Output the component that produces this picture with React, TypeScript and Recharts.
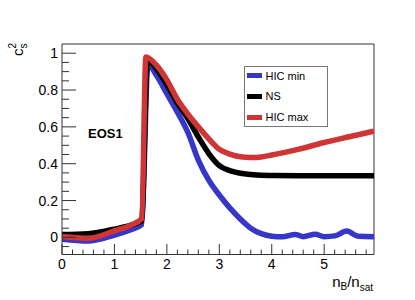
import { LineChart, Line, XAxis, YAxis, ReferenceLine } from "recharts";

// Speed of sound squared vs. baryon density (in units of n_sat), three EOS bands.
const hicMinX = [0, 0.5, 1.0, 1.3, 1.52, 1.64, 1.8, 2.0, 2.2, 2.4, 2.6, 2.8, 3.0, 3.2, 3.4, 3.6, 3.8, 4.0, 4.2, 4.45, 4.6, 4.83, 5.0, 5.2, 5.43, 5.65, 5.95];
const hicMinY = [-0.01, -0.02, 0.012, 0.04, 0.07, 0.94, 0.88, 0.78, 0.68, 0.57, 0.42, 0.31, 0.23, 0.16, 0.1, 0.05, 0.02, 0.006, 0.003, 0.016, 0.004, 0.017, 0.004, 0.008, 0.034, 0.006, 0.004];

const nsX = [0, 0.5, 1.0, 1.3, 1.52, 1.63, 1.8, 2.0, 2.2, 2.4, 2.6, 2.8, 3.0, 3.2, 3.4, 3.6, 3.8, 4.0, 4.5, 5.0, 5.5, 5.95];
const nsY = [0.015, 0.02, 0.045, 0.065, 0.09, 0.965, 0.915, 0.83, 0.73, 0.645, 0.545, 0.455, 0.39, 0.362, 0.348, 0.341, 0.337, 0.336, 0.335, 0.335, 0.335, 0.335];

const hicMaxX = [0, 0.5, 1.0, 1.3, 1.52, 1.6, 1.8, 2.0, 2.2, 2.4, 2.6, 2.8, 3.0, 3.2, 3.4, 3.6, 3.8, 4.0, 4.5, 5.0, 5.5, 5.95];
const hicMaxY = [0.005, -0.005, 0.035, 0.065, 0.1, 0.98, 0.935, 0.855, 0.75, 0.67, 0.6, 0.535, 0.478, 0.452, 0.438, 0.434, 0.437, 0.447, 0.478, 0.515, 0.548, 0.577];

const xMajor = [0, 1, 2, 3, 4, 5];
const yMajor = [0, 0.2, 0.4, 0.6, 0.8, 1];
const yLabels = ["0", "0.2", "0.4", "0.6", "0.8", "1"];

const X_DOMAIN: [number, number] = [0, 5.95];
const Y_DOMAIN: [number, number] = [-0.093, 1.05];

const BLUE = "#3636c8";
const RED = "#cf3535";
const FONT = "'Liberation Sans', Arial, Helvetica, sans-serif";

const toPoints = (xs: number[], ys: number[]) => xs.map((x, i) => ({ x, y: ys[i] }));

// minor ticks every 0.2 on x, every 0.05 on y
const xTicks: number[] = [];
for (let i = 0; i <= 29; i++) xTicks.push(+(i * 0.2).toFixed(2));
const yTicks: number[] = [];
for (let i = -1; i <= 20; i++) yTicks.push(+(i * 0.05).toFixed(2));

const isMajor = (v: number, list: number[]) => list.findIndex((m) => Math.abs(m - v) < 1e-6);

const XTick = (props: any) => {
  const { x, y, payload } = props;
  const idx = isMajor(payload.value, xMajor);
  return (
    <g>
      <line x1={x} x2={x} y1={y} y2={y - (idx >= 0 ? 10.5 : 5)} stroke="#333" />
      {idx >= 0 && (
        <text x={x} y={y + 14} textAnchor="middle" fontSize={14} fontFamily={FONT} fill="#000">
          {xMajor[idx]}
        </text>
      )}
    </g>
  );
};

const YTick = (props: any) => {
  const { x, y, payload } = props;
  const idx = isMajor(payload.value, yMajor);
  return (
    <g>
      <line x1={x} x2={x + (idx >= 0 ? 14 : 7)} y1={y} y2={y} stroke="#333" />
      {idx >= 0 && (
        <text x={x - 4} y={y + 5} textAnchor="end" fontSize={14} fontFamily={FONT} fill="#000">
          {yLabels[idx]}
        </text>
      )}
    </g>
  );
};

const legendItems = [
  { name: "HIC min", color: BLUE },
  { name: "NS", color: "#000" },
  { name: "HIC max", color: RED },
];

export default function App() {
  return (
    <div style={{ position: "fixed", left: 0, top: 0, width: 415, height: 300, background: "#fff" }}>
      <LineChart width={415} height={300} margin={{ top: 44, right: 41, bottom: 0, left: 0 }}>
        <XAxis
          dataKey="x"
          type="number"
          domain={X_DOMAIN}
          allowDataOverflow
          ticks={xTicks}
          interval={0}
          tickSize={0}
          tickMargin={0}
          tick={<XTick />}
          height={45.5}
          stroke="#333"
        />
        <YAxis
          dataKey="y"
          type="number"
          domain={Y_DOMAIN}
          allowDataOverflow
          ticks={yTicks}
          interval={0}
          tickSize={0}
          tickMargin={0}
          tick={<YTick />}
          width={62}
          stroke="#333"
        />
        <ReferenceLine y={Y_DOMAIN[1]} stroke="#333" />
        <ReferenceLine x={X_DOMAIN[1]} stroke="#333" />
        <Line data={toPoints(hicMinX, hicMinY)} dataKey="y" type="monotone" stroke={BLUE} strokeWidth={5.5} dot={false} isAnimationActive={false} name="HIC min" />
        <Line data={toPoints(nsX, nsY)} dataKey="y" type="monotone" stroke="#000" strokeWidth={5.5} dot={false} isAnimationActive={false} name="NS" />
        <Line data={toPoints(hicMaxX, hicMaxY)} dataKey="y" type="monotone" stroke={RED} strokeWidth={5.5} dot={false} isAnimationActive={false} name="HIC max" />
      </LineChart>

      {/* titles and the EOS label */}
      <svg width={415} height={300} style={{ position: "absolute", left: 0, top: 0, pointerEvents: "none" }}>
        <text transform="translate(23,56) rotate(-90)" fontSize={15} fontFamily={FONT} fill="#000">
          c
          <tspan fontSize={10} dy={4}>s</tspan>
          <tspan fontSize={10} dx={-5} dy={-11}>2</tspan>
        </text>
        <text x={373} y={287} textAnchor="end" fontSize={15} fontFamily={FONT} fill="#000">
          n
          <tspan fontSize={10} dy={3}>B</tspan>
          <tspan dy={-3}>/n</tspan>
          <tspan fontSize={10} dy={4}>sat</tspan>
        </text>
        <text x={88} y={137.7} fontSize={13} fontWeight="bold" fontFamily={FONT} fill="#000">
          EOS1
        </text>
      </svg>

      {/* legend box */}
      <div
        style={{
          position: "absolute",
          left: 244,
          top: 65.5,
          width: 84,
          height: 61,
          boxSizing: "border-box",
          border: "1px solid #777",
          background: "#fff",
          fontFamily: FONT,
          fontSize: 11,
        }}
      >
        {legendItems.map((it, i) => (
          <div
            key={it.name}
            style={{ position: "absolute", left: 2, top: -1 + i * 20.7, height: 20.7, display: "flex", alignItems: "center" }}
          >
            <div style={{ width: 14.5, height: 5, background: it.color, marginRight: 4 }} />
            <span style={{ lineHeight: "20.7px" }}>{it.name}</span>
          </div>
        ))}
      </div>
    </div>
  );
}
